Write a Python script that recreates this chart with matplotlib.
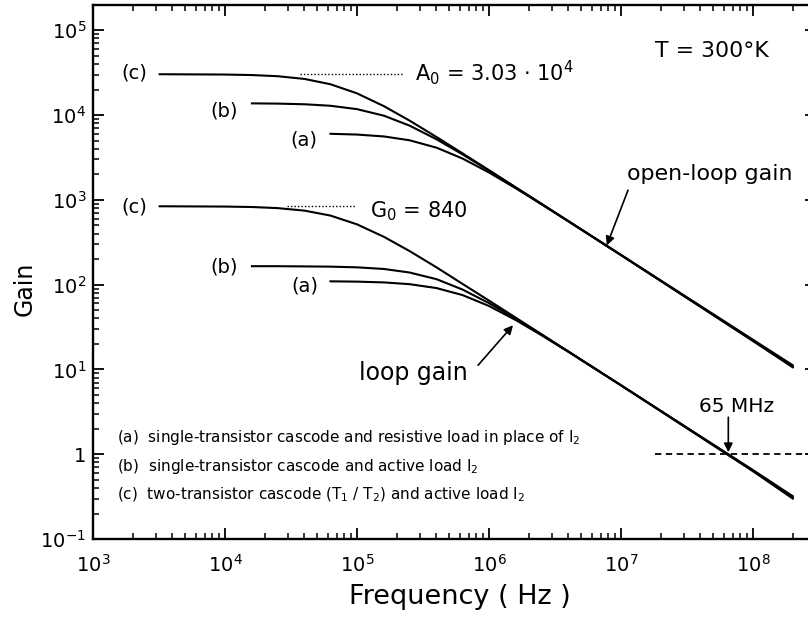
import matplotlib
matplotlib.use('Agg')
import matplotlib.pyplot as plt
from matplotlib.ticker import FixedLocator, LogLocator, FuncFormatter, NullFormatter
import numpy as np

# frequency grid (Hz) shared by all curves; (b) starts at index 2, (a) at index 5
freq = [3.2e3, 1e4, 1.6e4, 2.5e4, 4e4, 6.3e4, 1e5, 1.6e5, 2.5e5, 4e5, 6.3e5,
        1e6, 1.6e6, 2.5e6, 4e6, 1e7, 1e8, 2e8]

open_c = [30300, 30030, 29620, 28710, 26660, 23070, 18020, 12720, 8600, 5510,
          3535, 2236, 1400, 897, 561, 224, 22.4, 11.2]
open_b = [13730, 13640, 13400, 12860, 11740, 9820, 7505, 5180, 3437, 2207,
          1390, 892, 558, 223, 21.9, 10.8]
open_a = [6010, 5886, 5592, 5041, 4124, 3070, 2101, 1364, 886, 557, 223,
          21.6, 10.6]

loop_c = [840, 833, 823, 799, 746, 652, 514, 366, 249, 160, 102, 64.8, 40.6,
          26.0, 16.25, 6.5, 0.65, 0.32]
loop_b = [165, 165, 164, 163, 160, 153, 139, 116, 87.5, 60.5, 39.5, 25.7,
          16.2, 6.5, 0.64, 0.31]
loop_a = [109.4, 108.5, 106.2, 101.3, 91.1, 75.3, 56.0, 38.1, 25.3, 16.1,
          6.49, 0.63, 0.30]

A0 = 3.03e4
G0 = 840
f_unity = 65e6

x_ticks = [1e3, 1e4, 1e5, 1e6, 1e7, 1e8]
y_ticks = [1e-1, 1, 1e1, 1e2, 1e3, 1e4, 1e5]

legend_lines = [
    r'(a)  single-transistor cascode and resistive load in place of I$_2$',
    r'(b)  single-transistor cascode and active load I$_2$',
    r'(c)  two-transistor cascode (T$_1$ / T$_2$) and active load I$_2$',
]

plt.rcParams['font.family'] = ['DejaVu Sans']
plt.rcParams['mathtext.fontset'] = 'dejavusans'

fig = plt.figure(figsize=(8.08, 6.21), dpi=100)
ax = fig.add_axes([0.1151, 0.1320, 0.8948, 0.8604])

lw = 1.5
ax.plot(freq, open_c, color='k', lw=lw)
ax.plot(freq[2:], open_b, color='k', lw=lw)
ax.plot(freq[5:], open_a, color='k', lw=lw)
ax.plot(freq, loop_c, color='k', lw=lw)
ax.plot(freq[2:], loop_b, color='k', lw=lw)
ax.plot(freq[5:], loop_a, color='k', lw=lw)

# reference levels
ax.plot([3.7e4, 2.24e5], [A0, A0], color='k', lw=1.0, ls=(0, (1, 1.5)))
ax.plot([2.95e4, 9.7e4], [G0, G0], color='k', lw=1.0, ls=(0, (1, 1.5)))
ax.plot([1.8e7, 3e8], [1, 1], color='k', lw=1.3, dashes=(3.5, 2.5))

ax.set_xscale('log')
ax.set_yscale('log')
ax.set_xlim(1e3, 3e8)
ax.set_ylim(1e-1, 2e5)

ax.xaxis.set_major_locator(FixedLocator(x_ticks))
ax.yaxis.set_major_locator(FixedLocator(y_ticks))
ax.xaxis.set_minor_locator(LogLocator(base=10, subs=np.arange(2, 10), numticks=50))
ax.yaxis.set_minor_locator(LogLocator(base=10, subs=np.arange(2, 10), numticks=50))
ax.xaxis.set_minor_formatter(NullFormatter())
ax.yaxis.set_minor_formatter(NullFormatter())


def pow_fmt(v, pos):
    n = int(round(np.log10(v)))
    if n == 0:
        return '1'
    return r'$10^{%d}$' % n


ax.xaxis.set_major_formatter(FuncFormatter(pow_fmt))
ax.yaxis.set_major_formatter(FuncFormatter(pow_fmt))

ax.tick_params(which='both', direction='in', top=True, right=True, labelsize=14)
ax.tick_params(which='major', length=8, width=1.3)
ax.tick_params(which='minor', length=4.5, width=1.1)
ax.tick_params(axis='x', which='major', pad=11)
ax.tick_params(axis='y', which='major', pad=5)
for s in ax.spines.values():
    s.set_linewidth(1.7)

ax.set_xlabel('Frequency ( Hz )', fontsize=19.5)
ax.set_ylabel('Gain', fontsize=17)
ax.xaxis.set_label_coords(0.5076, -0.085)
ax.yaxis.set_label_coords(-0.0775, 0.468)

# curve labels
lab = dict(fontsize=14, ha='right', va='center')
ax.text(2.56e3, 3.1e4, '(c)', **lab)
ax.text(1.25e4, 1.11e4, '(b)', **lab)
ax.text(5.0e4, 5.05e3, '(a)', **lab)
ax.text(2.56e3, 819, '(c)', **lab)
ax.text(1.25e4, 160, '(b)', **lab)
ax.text(5.07e4, 95.7, '(a)', **lab)

ax.text(2.75e5, 2.57e4, r'A$_0$ = 3.03 $\cdot$ 10$^4$', fontsize=15, va='baseline')
ax.text(1.25e5, 624, r'G$_0$ = 840', fontsize=15, va='baseline')
ax.text(1.81e7, 4.81e4, 'T = 300°K', fontsize=15.8, va='baseline')
ax.text(1.11e7, 1.70e3, 'open-loop gain', fontsize=15.9, va='baseline')
ax.text(6.93e5, 7.47, 'loop gain', fontsize=17, va='baseline', ha='right')
ax.text(7.57e7, 3.13, '65 MHz', fontsize=14.5, va='baseline', ha='center')

arrow = dict(arrowstyle='-|>', color='k', lw=1.2, mutation_scale=13,
             shrinkA=0, shrinkB=0)
ax.annotate('', xy=(7.8e6, 290), xytext=(1.13e7, 1.3e3), arrowprops=arrow)
ax.annotate('', xy=(1.52e6, 33.2), xytext=(8.26e5, 11.2), arrowprops=arrow)
ax.annotate('', xy=(f_unity, 1.056), xytext=(f_unity, 2.73), arrowprops=arrow)

for y, txt in zip([1.586, 0.722, 0.3285], legend_lines):
    ax.text(1.52e3, y, txt, fontsize=11, va='center')

fig.savefig('out.png', dpi=100)
